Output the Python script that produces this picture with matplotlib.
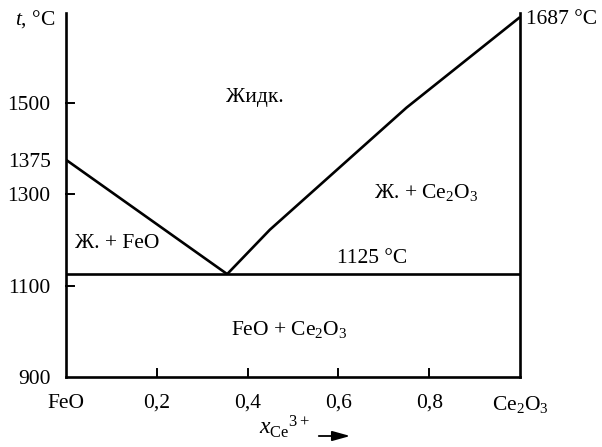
import numpy as np
import matplotlib
matplotlib.use('Agg')
from matplotlib import pyplot as plt

plt.rcParams['font.family'] = ['Liberation Serif', 'DejaVu Serif']
plt.rcParams['mathtext.fontset'] = 'custom'
plt.rcParams['mathtext.rm'] = 'Liberation Serif'
plt.rcParams['mathtext.it'] = 'Liberation Serif:italic'
plt.rcParams['font.size'] = 15.5

# liquidus FeO side
left_x = [0.0, 0.355]
left_t = [1375, 1125]
# liquidus Ce2O3 side
right_x = [0.355, 0.449, 0.75, 1.0]
right_t = [1125, 1222, 1489, 1687]
# eutectic
eut_x = [0.0, 1.0]
eut_t = [1125, 1125]

xtick_pos = [0, 0.2, 0.4, 0.6, 0.8, 1.0]
xtick_lab = ['FeO', '0,2', '0,4', '0,6', '0,8', r'Ce$_2$O$_3$']
ytick_pos = [900, 1100, 1300, 1375, 1500]
ytick_lab = ['900', '1100', '1300', '1375', '1500']
ymarks = [1100, 1300, 1500]
xmarks = [0.2, 0.4, 0.6, 0.8]

fig = plt.figure(figsize=(6.02, 4.47), dpi=100)
ax = fig.add_axes([66/602, 70/447, 454/602, 364/447])
lw = 1.9
ax.plot(left_x, left_t, color='black', lw=lw, solid_capstyle='butt')
ax.plot(right_x, right_t, color='black', lw=lw, solid_capstyle='butt')
ax.plot(eut_x, eut_t, color='black', lw=lw, solid_capstyle='butt')

ax.set_xlim(0, 1)
ax.set_ylim(900, 1696)
ax.spines['top'].set_visible(False)
for s in ['left', 'right', 'bottom']:
    ax.spines[s].set_linewidth(lw)

ax.set_xticks(xtick_pos)
ax.set_xticklabels(xtick_lab)
ax.set_yticks(ytick_pos)
ax.set_yticklabels(ytick_lab)
ax.tick_params(which='major', length=0, pad=11)
ax.tick_params(axis='x', which='major', pad=12)

# short tick marks pointing into the plot
for t in ymarks:
    ax.plot([0, 0.018], [t, t], color='black', lw=1.4, clip_on=False)
for x in xmarks:
    ax.plot([x, x], [900, 918], color='black', lw=1.4, clip_on=False)

ax.text(0.416, 1502, 'Жидк.', ha='center', va='baseline')
ax.text(0.793, 1292, r'Ж. + Ce$_2$O$_3$', ha='center', va='baseline')
ax.text(0.112, 1182, 'Ж. + FeO', ha='center', va='baseline')
ax.text(0.674, 1149, '1125 °C', ha='center', va='baseline')
ax.text(0.491, 992, r'FeO + Ce$_2$O$_3$', ha='center', va='baseline')

fig.text(55/602, 1 - 19/447, r'$t$, °C', ha='right', va='center')
fig.text(526/602, 1 - 20/447, '1687 °C', ha='left', va='center')
fig.text(259/602, 1 - 434/447, r'$x_{\mathrm{Ce}}{}^{3+}$', ha='left', va='baseline', fontsize=17)
fig.add_artist(matplotlib.patches.FancyArrowPatch(
    (316/602, 1 - 436/447), (353/602, 1 - 436/447), transform=fig.transFigure,
    arrowstyle='-|>,head_length=0.9,head_width=0.25', mutation_scale=12, color='black', lw=1.3))

fig.savefig('out.png', dpi=100)
